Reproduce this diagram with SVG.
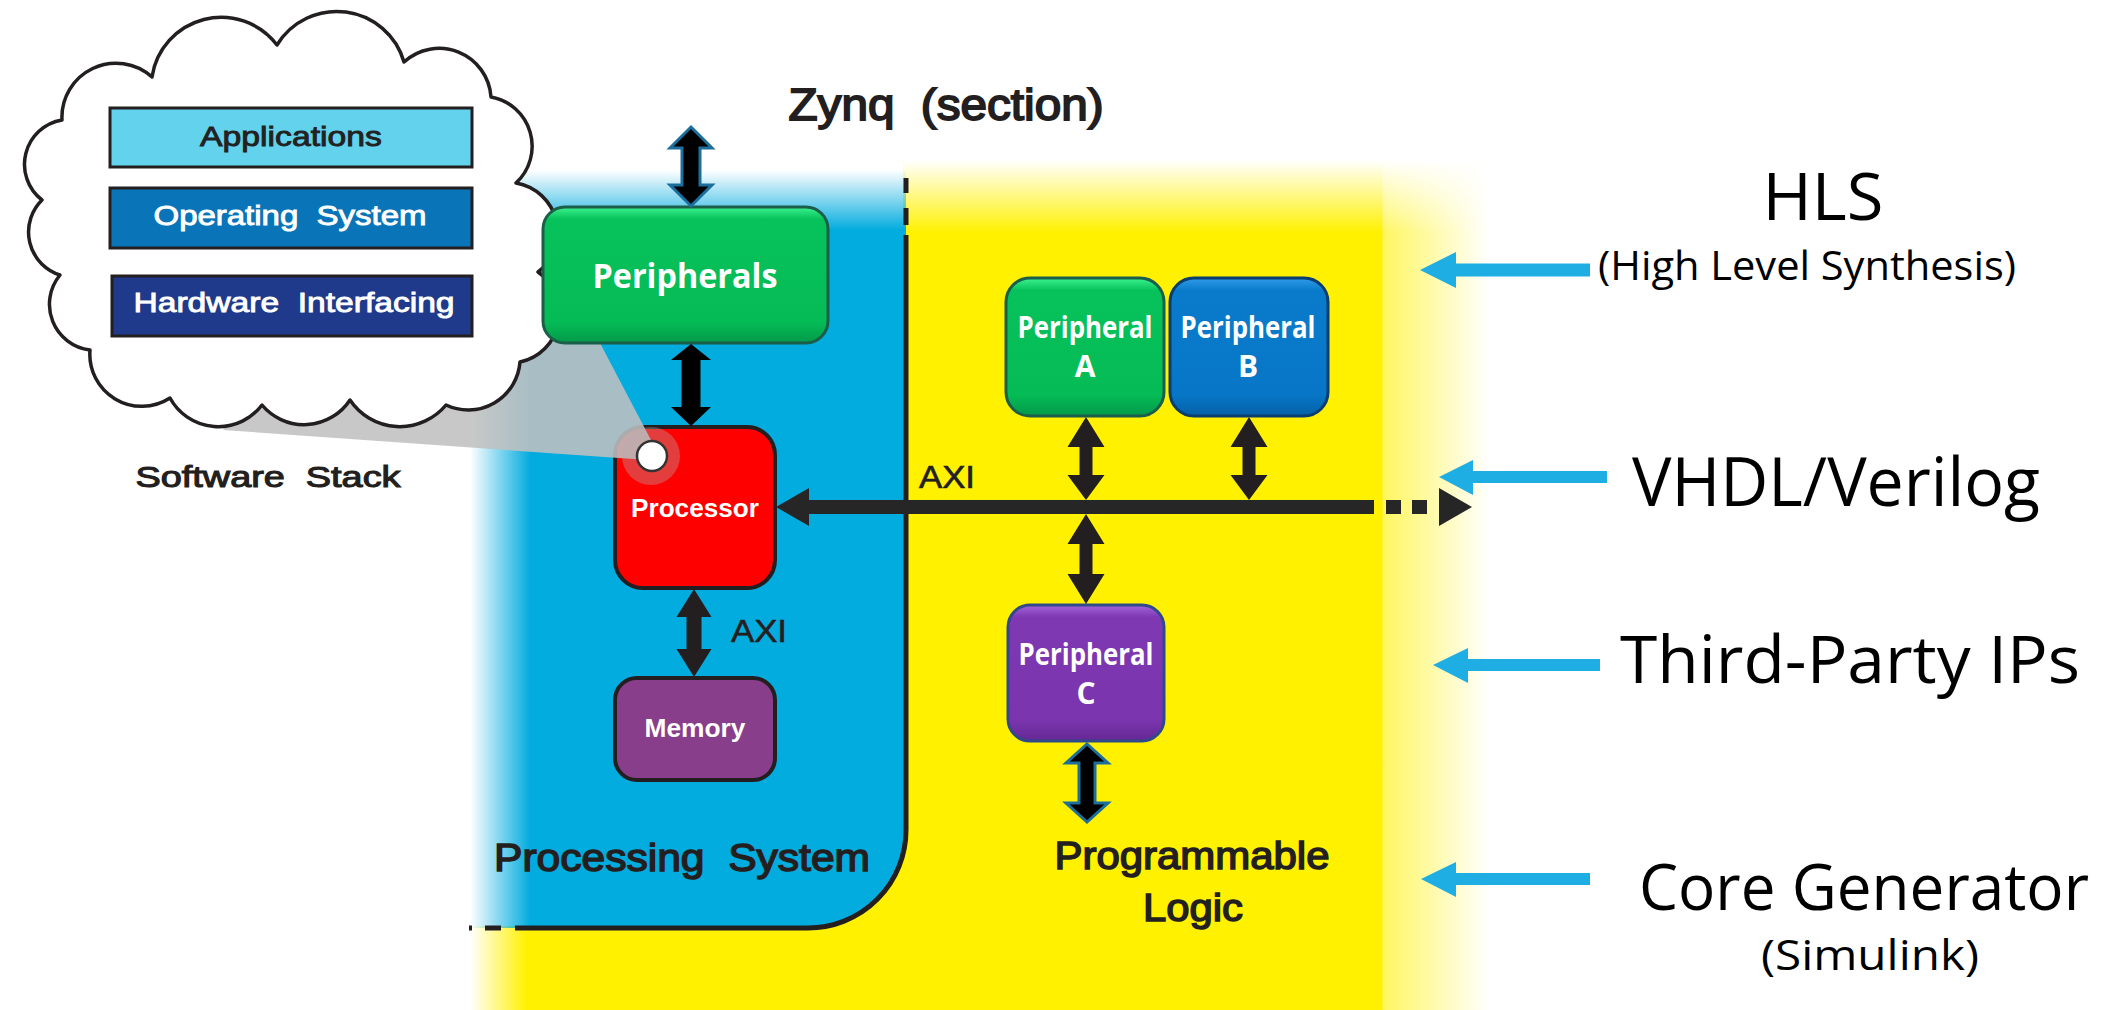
<svg xmlns="http://www.w3.org/2000/svg" width="2112" height="1010" viewBox="0 0 2112 1010">
<defs>
<style>
.lbl{font-family:"Liberation Sans",Arial,sans-serif;fill:#231F20;stroke:#231F20;stroke-width:0.9;text-anchor:middle}
.box{font-family:"Open Sans","Noto Sans",sans-serif;font-weight:bold;fill:#ffffff;text-anchor:middle}
.nar{font-family:"Liberation Sans",Arial,sans-serif;font-weight:bold;text-anchor:middle}
.stk{font-family:"Liberation Sans",Arial,sans-serif;text-anchor:middle;stroke-width:0.9}
.hand{font-family:"Open Sans","Noto Sans",sans-serif;fill:#000;text-anchor:middle}
.bar{fill:#262626}
.blue-arrow{fill:#1FAEE3}
.dbl{fill:#231F20}
.dblo{fill:#000;stroke:#1C6E9C;stroke-width:3;stroke-linejoin:miter}
.edge{fill:none;stroke:#231F20;stroke-width:5}
</style>
<linearGradient id="gYh" gradientUnits="userSpaceOnUse" x1="470" y1="0" x2="1500" y2="0">
<stop offset="0" stop-color="#fff" stop-opacity="0"/>
<stop offset="0.0553" stop-color="#fff" stop-opacity="1"/>
<stop offset="0.885" stop-color="#fff" stop-opacity="1"/>
<stop offset="0.887" stop-color="#fff" stop-opacity="0.62"/>
<stop offset="0.99" stop-color="#fff" stop-opacity="0"/>
</linearGradient>
<linearGradient id="gYv" gradientUnits="userSpaceOnUse" x1="0" y1="155" x2="0" y2="1010">
<stop offset="0.006" stop-color="#fff" stop-opacity="0"/>
<stop offset="0.091" stop-color="#fff" stop-opacity="1"/>
<stop offset="1" stop-color="#fff" stop-opacity="1"/>
</linearGradient>
<linearGradient id="gBh" gradientUnits="userSpaceOnUse" x1="470" y1="0" x2="530" y2="0">
<stop offset="0" stop-color="#fff" stop-opacity="0"/>
<stop offset="1" stop-color="#fff" stop-opacity="1"/>
</linearGradient>
<linearGradient id="gBv" gradientUnits="userSpaceOnUse" x1="0" y1="170" x2="0" y2="230">
<stop offset="0" stop-color="#fff" stop-opacity="0"/>
<stop offset="1" stop-color="#fff" stop-opacity="1"/>
</linearGradient>
<mask id="mYh" maskUnits="userSpaceOnUse" x="0" y="0" width="2112" height="1010"><rect x="0" y="0" width="2112" height="1010" fill="url(#gYh)"/></mask>
<mask id="mYv" maskUnits="userSpaceOnUse" x="0" y="0" width="2112" height="1010"><rect x="0" y="0" width="2112" height="1010" fill="url(#gYv)"/></mask>
<mask id="mBh" maskUnits="userSpaceOnUse" x="0" y="0" width="2112" height="1010"><rect x="0" y="0" width="2112" height="1010" fill="url(#gBh)"/></mask>
<mask id="mBv" maskUnits="userSpaceOnUse" x="0" y="0" width="2112" height="1010"><rect x="0" y="0" width="2112" height="1010" fill="url(#gBv)"/></mask>
<linearGradient id="gGreen" x1="0" y1="0" x2="0" y2="1">
<stop offset="0" stop-color="#3BF28F"/><stop offset="0.09" stop-color="#07C25B"/><stop offset="0.85" stop-color="#05BB55"/><stop offset="1" stop-color="#03994A"/>
</linearGradient>
<linearGradient id="gBlue" x1="0" y1="0" x2="0" y2="1">
<stop offset="0" stop-color="#2F9BEA"/><stop offset="0.09" stop-color="#0A7BCB"/><stop offset="0.85" stop-color="#0776C6"/><stop offset="1" stop-color="#0560A6"/>
</linearGradient>
<linearGradient id="gPurple" x1="0" y1="0" x2="0" y2="1">
<stop offset="0" stop-color="#A464DA"/><stop offset="0.09" stop-color="#7D38B2"/><stop offset="0.85" stop-color="#7A35AE"/><stop offset="1" stop-color="#652893"/>
</linearGradient>
</defs>
<rect x="0" y="0" width="2112" height="1010" fill="#ffffff"/>

<!-- Background regions -->
<g id="programmable-logic-region" mask="url(#mYv)">
<polygon points="903,155 1500,155 1500,1010 470,1010 470,926 808,926 808,830 903,830" fill="#FFF100" mask="url(#mYh)"/>
</g>
<g id="processing-system-region" mask="url(#mBv)">
<path d="M470,165 H906 V830 A98,98 0 0 1 808,928 H470 Z" fill="#03ACDF" mask="url(#mBh)"/>
</g>
<g id="region-boundary">
<path class="edge" d="M906,235 V830 A98,98 0 0 1 808,928 H515"/>
<rect x="903.5" y="178" width="5" height="15" fill="#231F20"/>
<rect x="903.5" y="208" width="5" height="17" fill="#231F20"/>
<rect x="485" y="925.5" width="16" height="5" fill="#231F20"/>
<rect x="469" y="925.5" width="3" height="5" fill="#231F20"/>
</g>

<!-- Processor -->
<g id="processor">
<rect x="615" y="427" width="160" height="161" rx="28" fill="#FF0000" stroke="#231F20" stroke-width="4"/>
<text class="nar" x="695" y="517" font-size="25" fill="#ffffff" textLength="128" lengthAdjust="spacingAndGlyphs">Processor</text>
</g>

<!-- Callout wedge -->
<g id="callout-wedge">
<polygon points="223,430 516,183 662,461" fill="#C0C0C0" fill-opacity="0.88"/>
<circle cx="651" cy="456" r="29" fill="#B0B0B0" fill-opacity="0.35"/>
<circle cx="652" cy="456" r="15" fill="#ffffff" stroke="#333" stroke-width="2.5"/>
</g>

<!-- Software stack cloud -->
<g id="software-stack">
<path d="M152,77 A70,70 0 0 1 277,45 A70,70 0 0 1 404,62 A52,52 0 0 1 491,97 A50,50 0 0 1 516,183 A50,50 0 0 1 538,272 A50,50 0 0 1 520,362 A52,52 0 0 1 446,405 A60,60 0 0 1 350,400 A55,55 0 0 1 262,405 A55,55 0 0 1 170,398 A52,52 0 0 1 90,350 A46,46 0 0 1 60,275 A45,45 0 0 1 42,200 A45,45 0 0 1 62,120 A54,54 0 0 1 152,77 Z" fill="#ffffff" stroke="#231F20" stroke-width="3.5" stroke-linejoin="round"/>
<rect x="110" y="108" width="362" height="59" fill="#63D2EC" stroke="#231F20" stroke-width="3"/>
<text class="stk" x="291" y="146" font-size="28" fill="#222" stroke="#222" textLength="182" lengthAdjust="spacingAndGlyphs">Applications</text>
<rect x="110" y="188" width="362" height="60" fill="#0A74B8" stroke="#231F20" stroke-width="3"/>
<text class="stk" x="290" y="225" font-size="28" fill="#ffffff" stroke="#ffffff" xml:space="preserve" textLength="273" lengthAdjust="spacingAndGlyphs">Operating  System</text>
<rect x="112" y="276" width="360" height="60" fill="#1F3A8A" stroke="#231F20" stroke-width="3"/>
<text class="stk" x="294" y="312" font-size="28" fill="#ffffff" stroke="#ffffff" xml:space="preserve" textLength="321" lengthAdjust="spacingAndGlyphs">Hardware  Interfacing</text>
<text class="lbl" x="268" y="487" font-size="30" style="stroke-width:1.1" xml:space="preserve" textLength="265" lengthAdjust="spacingAndGlyphs">Software  Stack</text>
</g>

<!-- Peripherals -->
<g id="peripherals">
<rect x="543" y="207" width="285" height="136" rx="22" fill="url(#gGreen)" stroke="#1B5E4A" stroke-width="3"/>
<text class="box" x="685" y="288" font-size="34" textLength="185" lengthAdjust="spacingAndGlyphs">Peripherals</text>
</g>

<!-- Memory -->
<g id="memory">
<rect x="615" y="678" width="160" height="102" rx="22" fill="#883E8A" stroke="#231F20" stroke-width="4"/>
<text class="nar" x="695" y="737" font-size="25" fill="#ffffff" textLength="101" lengthAdjust="spacingAndGlyphs">Memory</text>
</g>

<!-- Peripheral A/B/C -->
<g id="peripheral-a">
<rect x="1006" y="278" width="158" height="138" rx="24" fill="url(#gGreen)" stroke="#1B5E4A" stroke-width="3"/>
<text class="box" x="1085" y="338" font-size="30" textLength="135" lengthAdjust="spacingAndGlyphs">Peripheral</text>
<text class="box" x="1085" y="377" font-size="30">A</text>
</g>
<g id="peripheral-b">
<rect x="1170" y="278" width="158" height="138" rx="24" fill="url(#gBlue)" stroke="#0B3E6E" stroke-width="3"/>
<text class="box" x="1248" y="338" font-size="30" textLength="135" lengthAdjust="spacingAndGlyphs">Peripheral</text>
<text class="box" x="1248" y="377" font-size="30">B</text>
</g>
<g id="peripheral-c">
<rect x="1008" y="605" width="156" height="136" rx="22" fill="url(#gPurple)" stroke="#2F4A8A" stroke-width="3"/>
<text class="box" x="1086" y="665" font-size="30" textLength="135" lengthAdjust="spacingAndGlyphs">Peripheral</text>
<text class="box" x="1086" y="704" font-size="30">C</text>
</g>

<!-- Labels -->
<g id="labels">
<text class="lbl" x="946" y="120" font-size="44" style="stroke-width:1.8" xml:space="preserve" textLength="315" lengthAdjust="spacingAndGlyphs">Zynq  (section)</text>
<text class="lbl" x="947" y="488" font-size="31" style="stroke-width:0.6" textLength="56" lengthAdjust="spacingAndGlyphs">AXI</text>
<text class="lbl" x="759" y="642" font-size="31" style="stroke-width:0.6" textLength="56" lengthAdjust="spacingAndGlyphs">AXI</text>
<text class="lbl" x="682" y="871" font-size="38" style="stroke-width:1.5" xml:space="preserve" textLength="376" lengthAdjust="spacingAndGlyphs">Processing  System</text>
<text class="lbl" x="1192" y="869" font-size="38" style="stroke-width:1.5" textLength="275" lengthAdjust="spacingAndGlyphs">Programmable</text>
<text class="lbl" x="1193" y="921" font-size="38" style="stroke-width:1.5" textLength="100" lengthAdjust="spacingAndGlyphs">Logic</text>
</g>

<!-- Connectors -->
<g id="connectors">
<polygon class="dblo" points="691,127 712,148 700,148 700,185 712,185 691,206 670,185 682,185 682,148 670,148"/>
<polygon fill="#000" points="691,344 711,360 700.5,360 700.5,407 711,407 691,426 671,407 681.5,407 681.5,360 671,360"/>
<polygon class="dbl" points="694,589 711.5,617 701.5,617 701.5,649 711.5,649 694,677 676.5,649 686.5,649 686.5,617 676.5,617"/>
<polygon class="dbl" points="1086,417 1104.5,447 1092.5,447 1092.5,475 1104.5,475 1086,500 1067.5,475 1079.5,475 1079.5,447 1067.5,447"/>
<polygon class="dbl" points="1249,417 1267.5,447 1255.5,447 1255.5,475 1267.5,475 1249,500 1230.5,475 1242.5,475 1242.5,447 1230.5,447"/>
<polygon class="dbl" points="1086,514 1104.5,544 1092.5,544 1092.5,574 1104.5,574 1086,604 1067.5,574 1079.5,574 1079.5,544 1067.5,544"/>
<polygon class="dblo" points="1087,744 1108,763 1095,763 1095,803 1108,803 1087,822 1066,803 1079,803 1079,763 1066,763"/>
<!-- AXI bus -->
<rect class="bar" x="806" y="500" width="568" height="14"/>
<polygon class="bar" points="776,507 809,488 809,526"/>
<rect class="bar" x="1386" y="500" width="15" height="14"/>
<rect class="bar" x="1412" y="500" width="15" height="14"/>
<polygon class="bar" points="1439,488 1472,507 1439,526"/>
<!-- Blue side arrows -->
<polygon class="blue-arrow" points="1420,270 1456,252 1456,263.5 1590,263.5 1590,276.5 1456,276.5 1456,288"/>
<polygon class="blue-arrow" points="1439,477 1473,460 1473,471 1607,471 1607,483 1473,483 1473,495"/>
<polygon class="blue-arrow" points="1433,665 1468,648 1468,659 1600,659 1600,671 1468,671 1468,683"/>
<polygon class="blue-arrow" points="1421,879 1456,862 1456,873 1590,873 1590,885 1456,885 1456,897"/>
</g>

<!-- Right-side annotations -->
<g id="annotations">
<text class="hand" x="1823" y="220" font-size="66" textLength="121" lengthAdjust="spacingAndGlyphs">HLS</text>
<text class="hand" x="1807" y="280" font-size="40" textLength="418" lengthAdjust="spacingAndGlyphs">(High Level Synthesis)</text>
<text class="hand" x="1836" y="506" font-size="68" textLength="408" lengthAdjust="spacingAndGlyphs">VHDL/Verilog</text>
<text class="hand" x="1850" y="683" font-size="66" textLength="460" lengthAdjust="spacingAndGlyphs">Third-Party IPs</text>
<text class="hand" x="1864" y="910" font-size="64" textLength="450" lengthAdjust="spacingAndGlyphs">Core Generator</text>
<text class="hand" x="1870" y="970" font-size="42" textLength="218" lengthAdjust="spacingAndGlyphs">(Simulink)</text>
</g>
</svg>
